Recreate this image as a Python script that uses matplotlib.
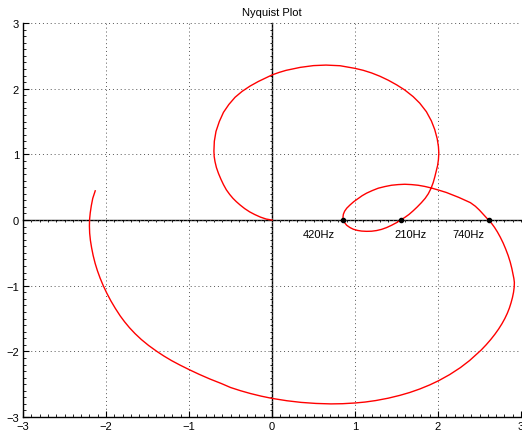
import matplotlib
matplotlib.use("Agg")
import matplotlib.pyplot as plt
from matplotlib.ticker import MultipleLocator, NullFormatter

plt.rcParams['font.family'] = ['Liberation Sans', 'DejaVu Sans']

# Nyquist locus as (Re, Im) pairs, in order of rising frequency
upper_loop = [
    (0.00, 0.00), (-0.07, 0.015), (-0.14, 0.045), (-0.21, 0.085), (-0.27, 0.125),
    (-0.33, 0.175), (-0.385, 0.23), (-0.43, 0.28), (-0.47, 0.33), (-0.51, 0.39),
    (-0.55, 0.46), (-0.585, 0.54), (-0.615, 0.62), (-0.645, 0.71), (-0.67, 0.80),
    (-0.687, 0.89), (-0.697, 0.97), (-0.70, 1.05), (-0.695, 1.20), (-0.675, 1.35),
    (-0.635, 1.50), (-0.585, 1.64), (-0.52, 1.76), (-0.445, 1.87), (-0.36, 1.96),
    (-0.265, 2.04), (-0.165, 2.11), (-0.075, 2.165), (0.00, 2.21), (0.085, 2.248),
    (0.17, 2.28), (0.34, 2.325), (0.50, 2.352), (0.65, 2.36), (0.82, 2.35),
    (1.00, 2.31), (1.10, 2.28), (1.20, 2.24), (1.30, 2.19), (1.40, 2.13),
    (1.50, 2.06), (1.60, 1.98), (1.70, 1.88), (1.78, 1.78), (1.86, 1.65),
    (1.92, 1.51), (1.96, 1.38), (1.99, 1.24), (2.005, 1.12), (2.01, 1.02),
    (2.005, 0.92), (1.995, 0.83), (1.98, 0.75), (1.962, 0.66), (1.942, 0.57),
    (1.915, 0.48), (1.883, 0.40), (1.845, 0.33), (1.80, 0.265), (1.75, 0.20),
    (1.70, 0.14), (1.65, 0.085), (1.60, 0.04),
]
small_loop = [
    (1.55, 0.00), (1.50, -0.04), (1.44, -0.08), (1.38, -0.115), (1.32, -0.142),
    (1.26, -0.16), (1.20, -0.17), (1.14, -0.172), (1.08, -0.168), (1.03, -0.158),
    (0.98, -0.14), (0.94, -0.115), (0.90, -0.08), (0.875, -0.04), (0.86, 0.00),
    (0.855, 0.045), (0.86, 0.09), (0.875, 0.135), (0.90, 0.18), (0.94, 0.23),
    (0.985, 0.28), (1.03, 0.32), (1.085, 0.37), (1.14, 0.41), (1.21, 0.45),
    (1.28, 0.485), (1.36, 0.51), (1.44, 0.53), (1.52, 0.54), (1.60, 0.545),
    (1.68, 0.54), (1.76, 0.53), (1.84, 0.512), (1.92, 0.488), (2.01, 0.455),
    (2.10, 0.42), (2.18, 0.38), (2.25, 0.345), (2.32, 0.305), (2.39, 0.265),
    (2.45, 0.21), (2.50, 0.15), (2.555, 0.075),
]
outer_loop = [
    (2.61, 0.00), (2.645, -0.05), (2.68, -0.11), (2.715, -0.18), (2.75, -0.26),
    (2.785, -0.35), (2.815, -0.44), (2.845, -0.54), (2.87, -0.64), (2.89, -0.74),
    (2.905, -0.83), (2.914, -0.89), (2.92, -0.95), (2.918, -1.02), (2.91, -1.10),
    (2.897, -1.18), (2.88, -1.26), (2.86, -1.34), (2.835, -1.42), (2.805, -1.50),
    (2.77, -1.58), (2.73, -1.66), (2.685, -1.74), (2.635, -1.82), (2.58, -1.90),
    (2.52, -1.98), (2.45, -2.06), (2.38, -2.14), (2.27, -2.247), (2.14, -2.354),
    (2.01, -2.445), (1.90, -2.511), (1.78, -2.573), (1.66, -2.626), (1.54, -2.670),
    (1.40, -2.713), (1.25, -2.749), (1.12, -2.772), (1.00, -2.786), (0.85, -2.797),
    (0.71, -2.800), (0.53, -2.793), (0.35, -2.777), (0.18, -2.752), (0.00, -2.716),
    (-0.13, -2.682), (-0.26, -2.642), (-0.38, -2.599), (-0.50, -2.55), (-0.61, -2.49),
    (-0.75, -2.42), (-0.877, -2.35), (-0.995, -2.28), (-1.107, -2.21), (-1.211, -2.14),
    (-1.304, -2.07), (-1.388, -2.00), (-1.487, -1.91), (-1.574, -1.82), (-1.650, -1.73),
    (-1.717, -1.64), (-1.776, -1.55), (-1.829, -1.46), (-1.888, -1.345), (-1.942, -1.23),
    (-1.990, -1.115), (-2.033, -1.00), (-2.071, -0.885), (-2.104, -0.77), (-2.131, -0.66),
    (-2.155, -0.54), (-2.174, -0.42), (-2.188, -0.31), (-2.197, -0.20), (-2.200, -0.09),
    (-2.198, 0.01), (-2.19, 0.11), (-2.177, 0.22), (-2.16, 0.33), (-2.13, 0.445),
]

locus = upper_loop + small_loop + outer_loop
re_part = [p[0] for p in locus]
im_part = [p[1] for p in locus]

# Real-axis crossings
cross_labels = ['420Hz', '210Hz', '740Hz']
cross_re = [0.86, 1.55, 2.61]
cross_im = [0.0, 0.0, 0.0]
label_re = [0.37, 1.47, 2.17]
label_im = [-0.21, -0.21, -0.21]

ticks = [-3, -2, -1, 0, 1, 2, 3]
pos = [0.0441, 0.039, 0.954, 0.9057]

fig = plt.figure(figsize=(5.22, 4.35), dpi=100)

# Coordinate axes through the origin, with their own small ticks
ax0 = fig.add_axes(pos, facecolor='white')
ax0.set_xlim(-3, 3)
ax0.set_ylim(-3, 3)
ax0.spines['left'].set_position(('data', 0))
ax0.spines['bottom'].set_position(('data', 0))
for side in ('top', 'right'):
    ax0.spines[side].set_visible(False)
for side in ('left', 'bottom'):
    ax0.spines[side].set_linewidth(1.0)
ax0.xaxis.set_major_locator(MultipleLocator(0.1))
ax0.yaxis.set_major_locator(MultipleLocator(0.1))
ax0.xaxis.set_major_formatter(NullFormatter())
ax0.yaxis.set_major_formatter(NullFormatter())
ax0.tick_params(direction='out', length=1.5, width=0.6)

ax = fig.add_axes(pos, facecolor='none')
ax.set_xlim(-3, 3)
ax.set_ylim(-3, 3)
ax.set_xticks(ticks)
ax.set_yticks(ticks)
ax.xaxis.set_minor_locator(MultipleLocator(0.1))
ax.yaxis.set_minor_locator(MultipleLocator(0.1))
ax.tick_params(which='major', direction='in', length=4, width=0.8, labelsize=8,
               colors='black', pad=3)
ax.tick_params(which='minor', direction='in', length=2, width=0.6)
ax.tick_params(top=False, right=False, which='both')
for side in ('top', 'right'):
    ax.spines[side].set_visible(False)
for side in ('left', 'bottom'):
    ax.spines[side].set_linewidth(1.0)
ax.grid(True, which='major', linestyle=(0, (1, 3)), color='#555555', linewidth=0.7)

ax.plot(re_part, im_part, color='red', linewidth=1.0, zorder=3)
ax.plot(cross_re, cross_im, 'o', color='black', markersize=3, zorder=4)
for lab, lx, ly in zip(cross_labels, label_re, label_im):
    ax.text(lx, ly, lab, fontsize=8, ha='left', va='center')

ax.set_title('Nyquist Plot', fontsize=8, pad=6)

fig.savefig('out.png', dpi=100)
